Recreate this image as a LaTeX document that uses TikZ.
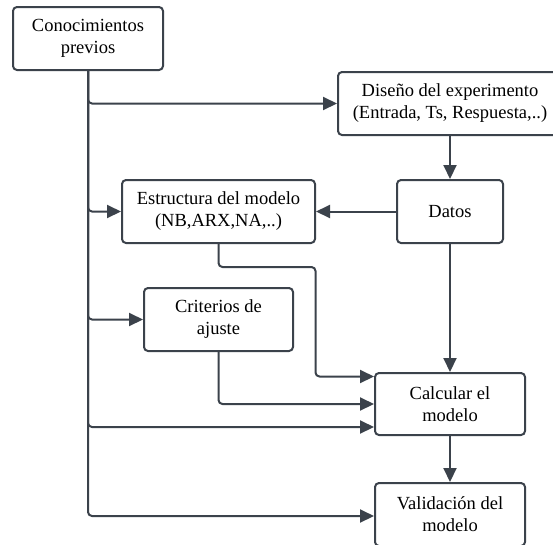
\documentclass[tikz,border=0pt]{standalone}
\usepackage{fontspec}
\setmainfont{Liberation Serif}
\usepackage{tikz}
\usetikzlibrary{positioning,arrows.meta}
\definecolor{linegray}{HTML}{3B424B}
\tikzset{
  proc/.style={draw=linegray,line width=2pt,fill=white,rounded corners=4pt,align=center,minimum height=63pt,inner sep=2pt,font=\fontsize{18.5}{22}\selectfont},
  myarrow/.style={-{Triangle[length=14pt,width=13pt]},line width=2pt,linegray,rounded corners=4pt},
}

\begin{document}
\begin{tikzpicture}[x=1pt,y=-1pt]
  \useasboundingbox (0,0) rectangle (553,544);
  \node[proc,minimum width=150pt] at (88,38.5) (conoc) {Conocimientos\\previos};
  \node[proc,minimum width=224pt] at (450,103.5) (diseno) {Diseño del experimento\\(Entrada, Ts, Respuesta,..)};
  \node[proc,minimum width=106pt,below=43pt of diseno] (datos) {Datos};
  \node[proc,minimum width=193pt,left=80pt of datos] (estruct) {Estructura del modelo\\(NB,ARX,NA,..)};
  \node[proc,minimum width=149pt,below=43pt of estruct] (criter) {Criterios de\\ajuste};
  \node[proc,minimum width=150pt,minimum height=62pt,below=128pt of datos] (calc) {Calcular el\\modelo};
  \node[proc,minimum width=150pt,below=46pt of calc] (valid) {Validación del\\modelo};
  \draw[myarrow] (conoc.south) |- (diseno.west);
  \draw[myarrow] (conoc.south) |- (estruct.west);
  \draw[myarrow] (conoc.south) |- (criter.west);
  \draw[myarrow] (conoc.south) |- ([yshift=-23pt]calc.west);
  \draw[myarrow] (conoc.south) |- ([yshift=-1.5pt]valid.west);
  \draw[myarrow] (diseno.south) -- (datos.north);
  \draw[myarrow] (datos.west) -- (estruct.east);
  \draw[myarrow] (datos.south) -- (calc.north);
  \draw[myarrow] (estruct.south) |- ++(97,23) |- ([yshift=27.5pt]calc.west);
  \draw[myarrow] (criter.south) |- (calc.west);
  \draw[myarrow] (calc.south) -- (valid.north);
\end{tikzpicture}
\end{document}
